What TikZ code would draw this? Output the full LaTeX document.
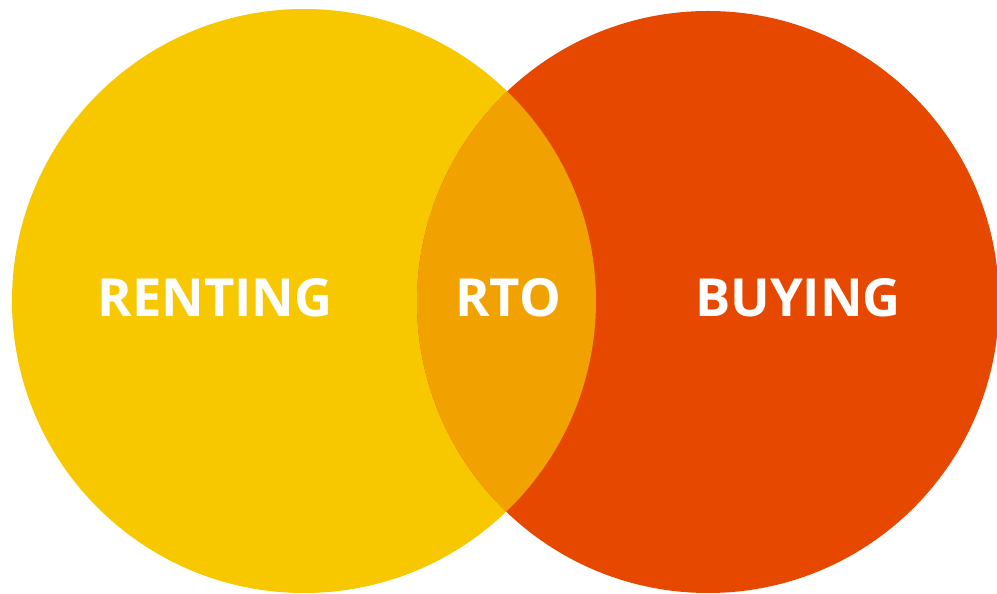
\documentclass[tikz,border=0pt]{standalone}
\usepackage{fontspec}
\setmainfont{Open Sans}
\definecolor{rentc}{HTML}{F7C800}
\definecolor{buyc}{HTML}{E64800}
\definecolor{rtoc}{HTML}{F2A200}
\begin{document}
\begin{tikzpicture}[x=1pt,y=1pt,
  lbl/.style={text=white,font=\fontsize{52.5}{60}\selectfont\bfseries,anchor=base,inner sep=0pt}]
\useasboundingbox (0,0) rectangle (997,594);
\fill[rentc] (304,293) circle[radius=292];
\fill[buyc] (708,292) circle[radius=291];
\begin{scope}
  \clip (304,293) circle[radius=292];
  \fill[rtoc] (708,292) circle[radius=291];
\end{scope}
\node[lbl] (renting) at (215,277) {RENTING};
\node[lbl] (rto) at (508,277) {RTO};
\node[lbl] (buying) at (798,277) {BUYING};
\end{tikzpicture}
\end{document}
